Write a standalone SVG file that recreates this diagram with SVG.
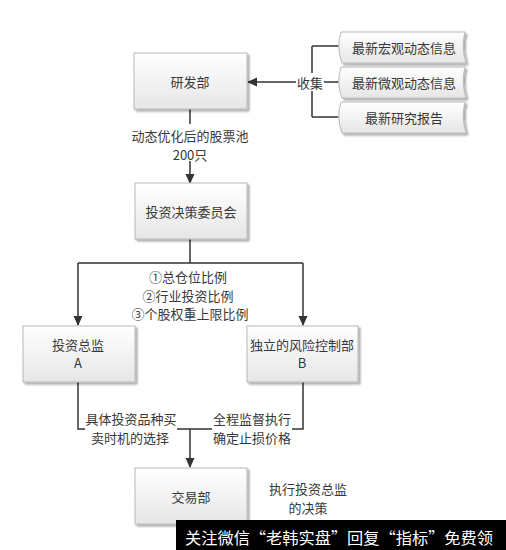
<svg xmlns="http://www.w3.org/2000/svg" width="506" height="550" viewBox="0 0 506 550">
<defs>
<linearGradient id="g" x1="0" y1="0" x2="0" y2="1">
<stop offset="0" stop-color="#ffffff"/>
<stop offset="1" stop-color="#e6e6e6"/>
</linearGradient>
<filter id="sh" x="-10%" y="-10%" width="130%" height="130%">
<feGaussianBlur in="SourceAlpha" stdDeviation="1.2"/>
<feOffset dx="1.5" dy="1.5"/>
<feComponentTransfer><feFuncA type="linear" slope="0.35"/></feComponentTransfer>
<feMerge><feMergeNode/><feMergeNode in="SourceGraphic"/></feMerge>
</filter>
<marker id="ah" markerWidth="10" markerHeight="10" refX="9" refY="5" orient="auto" markerUnits="userSpaceOnUse">
<path d="M0,0.5 L10,5 L0,9.5 Z" fill="#333"/>
</marker>
</defs>
<style>
.box{fill:url(#g);stroke:#b8b8b8;stroke-width:1;filter:url(#sh)}
.t{font-family:"Noto Sans CJK SC","Liberation Serif",serif;font-size:13px;fill:#383838;text-anchor:middle;dominant-baseline:central}
.ln{fill:none;stroke:#333;stroke-width:1.5}
.lb{fill:#fff}
</style>
<rect width="506" height="550" fill="#fff"/>

<g id="connectors">
<path class="ln" d="M312,46 V117 M312,46 H340 M312,117 H340 M320,82 H340"/>
<path class="ln" d="M298,82 H248" marker-end="url(#ah)"/>
<path class="ln" d="M190,109 V124"/>
<path class="ln" d="M190,161 V183" marker-end="url(#ah)"/>
<path class="ln" d="M190,239 V263 M78,263 H303"/>
<path class="ln" d="M78,263 V325" marker-end="url(#ah)"/>
<path class="ln" d="M303,263 V325" marker-end="url(#ah)"/>
<path class="ln" d="M78,382 V429 H303 V382"/>
<path class="ln" d="M190,429 V467" marker-end="url(#ah)"/>
<rect class="lb" x="296" y="73" width="28" height="18"/>
<rect class="lb" x="85" y="410" width="92" height="36"/>
<rect class="lb" x="212" y="410" width="80" height="36"/>
<text class="t" x="310" y="82">收集</text>
<text class="t" x="190" y="135">动态优化后的股票池</text>
<text class="t" x="190" y="154">200只</text>
<text class="t" x="188" y="276">①总仓位比例</text>
<text class="t" x="188" y="295">②行业投资比例</text>
<text class="t" x="190" y="313">③个股权重上限比例</text>
<text class="t" x="131" y="418">具体投资品种买</text>
<text class="t" x="130" y="437">卖时机的选择</text>
<text class="t" x="252" y="418">全程监督执行</text>
<text class="t" x="252" y="437">确定止损价格</text>
</g>

<g id="info1">
<path class="box" d="M341,32 H465 Q461,47 466,63 H342 Q336,47 341,32 Z"/>
<text class="t" x="404" y="47">最新宏观动态信息</text>
</g>
<g id="info2">
<path class="box" d="M341,67 H465 Q461,82 466,98 H342 Q336,82 341,67 Z"/>
<text class="t" x="404" y="82">最新微观动态信息</text>
</g>
<g id="info3">
<path class="box" d="M341,102 H465 Q461,117 466,133 H342 Q336,117 341,102 Z"/>
<text class="t" x="404" y="117">最新研究报告</text>
</g>

<g id="yanfa">
<rect class="box" x="134" y="53" width="113" height="56"/>
<text class="t" x="190" y="81">研发部</text>
</g>
<g id="committee">
<rect class="box" x="135" y="183" width="112" height="56"/>
<text class="t" x="191" y="211">投资决策委员会</text>
</g>
<g id="directorA">
<rect class="box" x="23" y="326" width="112" height="56"/>
<text class="t" x="78" y="344">投资总监</text>
<text class="t" x="78" y="362">A</text>
</g>
<g id="riskB">
<rect class="box" x="247" y="326" width="111" height="56"/>
<text class="t" x="302" y="344">独立的风险控制部</text>
<text class="t" x="302" y="362">B</text>
</g>
<g id="trade">
<rect class="box" x="135" y="468" width="112" height="56"/>
<text class="t" x="191" y="496">交易部</text>
</g>
<g id="note">
<text class="t" x="308" y="488">执行投资总监</text>
<text class="t" x="308" y="507">的决策</text>
</g>

<g id="watermark">
<rect x="176" y="520" width="330" height="30" fill="#000"/>
<text x="185" y="537" font-family="Noto Sans CJK SC,sans-serif" font-size="16" fill="#fff" dominant-baseline="central" textLength="308" lengthAdjust="spacingAndGlyphs">关注微信“老韩实盘”回复“指标”免费领</text>
</g>
</svg>
